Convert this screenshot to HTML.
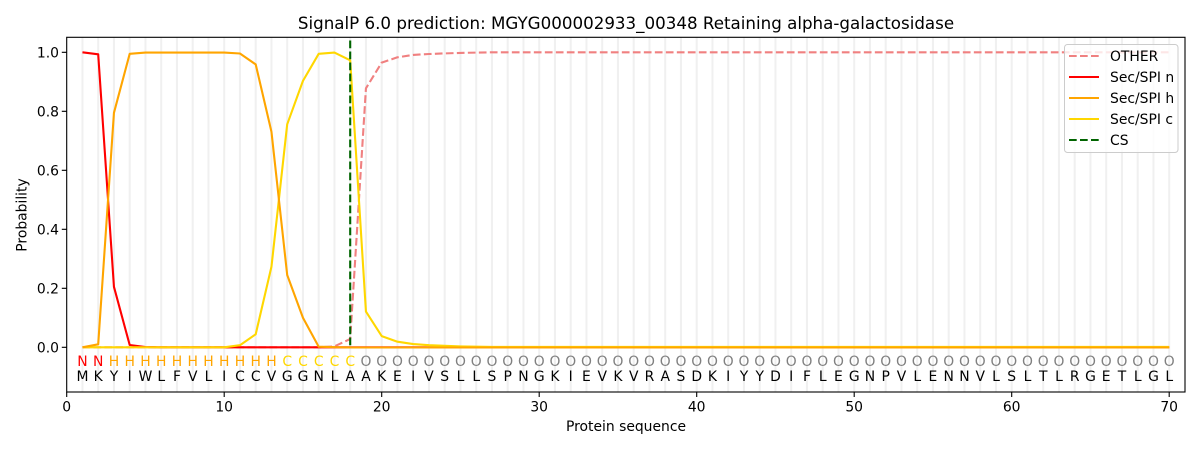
<!DOCTYPE html>
<html><head><meta charset="utf-8"><style>
html,body{margin:0;padding:0;background:#fff;}
svg{display:block;font-family:"DejaVu Sans","Liberation Sans",sans-serif;}
</style></head><body>
<svg width="1200" height="450" viewBox="0 0 1200 450" xmlns="http://www.w3.org/2000/svg">
<rect x="0" y="0" width="1200" height="450" fill="#fff"/>
<defs><clipPath id="cp"><rect x="66.7" y="37.3" width="1118.3" height="354.7"/></clipPath></defs>
<!-- grid lines -->
<path stroke="#f0f0f0" stroke-width="2" fill="none" d="M82.45 37.3V392M98.2 37.3V392M113.95 37.3V392M129.7 37.3V392M145.45 37.3V392M161.2 37.3V392M176.95 37.3V392M192.7 37.3V392M208.45 37.3V392M224.2 37.3V392M239.95 37.3V392M255.7 37.3V392M271.45 37.3V392M287.2 37.3V392M302.95 37.3V392M318.7 37.3V392M334.45 37.3V392M350.2 37.3V392M365.95 37.3V392M381.7 37.3V392M397.45 37.3V392M413.2 37.3V392M428.95 37.3V392M444.7 37.3V392M460.45 37.3V392M476.2 37.3V392M491.95 37.3V392M507.7 37.3V392M523.45 37.3V392M539.2 37.3V392M554.95 37.3V392M570.7 37.3V392M586.45 37.3V392M602.2 37.3V392M617.95 37.3V392M633.7 37.3V392M649.45 37.3V392M665.2 37.3V392M680.95 37.3V392M696.7 37.3V392M712.45 37.3V392M728.2 37.3V392M743.95 37.3V392M759.7 37.3V392M775.45 37.3V392M791.2 37.3V392M806.95 37.3V392M822.7 37.3V392M838.45 37.3V392M854.2 37.3V392M869.95 37.3V392M885.7 37.3V392M901.45 37.3V392M917.2 37.3V392M932.95 37.3V392M948.7 37.3V392M964.45 37.3V392M980.2 37.3V392M995.95 37.3V392M1011.7 37.3V392M1027.45 37.3V392M1043.2 37.3V392M1058.95 37.3V392M1074.7 37.3V392M1090.45 37.3V392M1106.2 37.3V392M1121.95 37.3V392M1137.7 37.3V392M1153.45 37.3V392M1169.2 37.3V392"/>

<g clip-path="url(#cp)" fill="none" stroke-width="2.1" stroke-linejoin="round">
<polyline stroke="#f08080" stroke-dasharray="7.7 3.3" points="82.45,347.3 318.7,347.3 334.45,346.4 350.2,339.0 365.95,88.3 381.7,62.6 397.45,57.3 413.2,54.9 428.95,54.0 444.7,53.4 460.45,52.9 476.2,52.6 491.95,52.3 1169.2,52.3"/>
<polyline stroke="#ff0000" points="82.45,52.3 98.2,54.3 113.95,286.8 129.7,345 145.45,347 160,347.3 1169.2,347.3"/>
<polyline stroke="#ffd700" points="82.45,347.3 224.2,347.3 239.95,345.2 255.7,334.3 271.45,266.8 287.2,124.3 302.95,80.9 318.7,53.8 334.45,52.6 350.2,60.3 365.95,311.6 381.7,336.1 397.45,341.7 413.2,344.1 428.95,345.2 444.7,345.8 460.45,346.4 476.2,346.7 491.95,346.9 1169.2,346.9"/>
<polyline stroke="#ffa500" points="82.45,347.3 98.2,344.3 113.95,112.8 129.7,53.8 145.45,52.6 224.2,52.6 239.95,53.5 255.7,64.4 271.45,131.7 287.2,275 302.95,317.8 318.7,346.7 334.45,347.2 350.2,347.5 1169.2,347.5"/>
<line x1="350.2" y1="40.5" x2="350.2" y2="347.3" stroke="#006400" stroke-dasharray="7.7 3.3"/>
</g>

<!-- residue labels -->
<g font-size="13.9" text-anchor="middle">
<text y="366"><tspan fill="#ff0000" x="82.45 98.2">NN</tspan><tspan fill="#ffa500" x="113.95 129.7 145.45 161.2 176.95 192.7 208.45 224.2 239.95 255.7 271.45">HHHHHHHHHHH</tspan><tspan fill="#ffd700" x="287.2 302.95 318.7 334.45 350.2">CCCCC</tspan><tspan fill="#808080" x="365.95 381.7 397.45 413.2 428.95 444.7 460.45 476.2 491.95 507.7 523.45 539.2 554.95 570.7 586.45 602.2 617.95 633.7 649.45 665.2 680.95 696.7 712.45 728.2 743.95 759.7 775.45 791.2 806.95 822.7 838.45 854.2 869.95 885.7 901.45 917.2 932.95 948.7 964.45 980.2 995.95 1011.7 1027.45 1043.2 1058.95 1074.7 1090.45 1106.2 1121.95 1137.7 1153.45 1169.2">OOOOOOOOOOOOOOOOOOOOOOOOOOOOOOOOOOOOOOOOOOOOOOOOOOOO</tspan></text>
<text y="381" fill="#000" x="82.45 98.2 113.95 129.7 145.45 161.2 176.95 192.7 208.45 224.2 239.95 255.7 271.45 287.2 302.95 318.7 334.45 350.2 365.95 381.7 397.45 413.2 428.95 444.7 460.45 476.2 491.95 507.7 523.45 539.2 554.95 570.7 586.45 602.2 617.95 633.7 649.45 665.2 680.95 696.7 712.45 728.2 743.95 759.7 775.45 791.2 806.95 822.7 838.45 854.2 869.95 885.7 901.45 917.2 932.95 948.7 964.45 980.2 995.95 1011.7 1027.45 1043.2 1058.95 1074.7 1090.45 1106.2 1121.95 1137.7 1153.45 1169.2">MKYIWLFVLICCVGGNLAAKEIVSLLSPNGKIEVKVRASDKIYYDIFLEGNPVLENNVLSLTLRGETLGL</text>
</g>

<!-- axes frame -->
<rect x="66.7" y="37.3" width="1118.3" height="354.7" fill="none" stroke="#000" stroke-width="1.1"/>

<!-- y ticks -->
<path stroke="#000" stroke-width="1.1" d="M61.8 347.3H66.7M61.8 288.3H66.7M61.8 229.3H66.7M61.8 170.3H66.7M61.8 111.3H66.7M61.8 52.3H66.7"/>
<g font-size="13.9" text-anchor="end" fill="#000">
<text x="59" y="352.3">0.0</text>
<text x="59" y="293.3">0.2</text>
<text x="59" y="234.3">0.4</text>
<text x="59" y="175.3">0.6</text>
<text x="59" y="116.3">0.8</text>
<text x="59" y="57.3">1.0</text>
</g>
<!-- x ticks -->
<path stroke="#000" stroke-width="1.1" d="M66.7 392V397M224.2 392V397M381.7 392V397M539.2 392V397M696.7 392V397M854.2 392V397M1011.7 392V397M1169.2 392V397"/>
<g font-size="13.9" text-anchor="middle" fill="#000">
<text x="66.7" y="411.5">0</text>
<text x="224.2" y="411.5">10</text>
<text x="381.7" y="411.5">20</text>
<text x="539.2" y="411.5">30</text>
<text x="696.7" y="411.5">40</text>
<text x="854.2" y="411.5">50</text>
<text x="1011.7" y="411.5">60</text>
<text x="1169.2" y="411.5">70</text>
<text x="626" y="431">Protein sequence</text>
<text x="626" y="29" font-size="16.7">SignalP 6.0 prediction: MGYG000002933_00348 Retaining alpha-galactosidase</text>
<text transform="translate(26.3,215) rotate(-90)" x="0" y="0">Probability</text>
</g>

<!-- legend -->
<rect x="1064.5" y="44.5" width="113.5" height="108" rx="3" fill="#fff" fill-opacity="0.8" stroke="#cccccc" stroke-width="1"/>
<g stroke-width="2.1">
<line x1="1069" y1="56" x2="1099" y2="56" stroke="#f08080" stroke-dasharray="7.7 3.3"/>
<line x1="1069" y1="77" x2="1099" y2="77" stroke="#ff0000"/>
<line x1="1069" y1="98" x2="1099" y2="98" stroke="#ffa500"/>
<line x1="1069" y1="119" x2="1099" y2="119" stroke="#ffd700"/>
<line x1="1069" y1="140" x2="1099" y2="140" stroke="#006400" stroke-dasharray="7.7 3.3"/>
</g>
<g font-size="13.9" fill="#000">
<text x="1110" y="61">OTHER</text>
<text x="1110" y="82">Sec/SPI n</text>
<text x="1110" y="103">Sec/SPI h</text>
<text x="1110" y="124">Sec/SPI c</text>
<text x="1110" y="145">CS</text>
</g>
</svg>
</body></html>
